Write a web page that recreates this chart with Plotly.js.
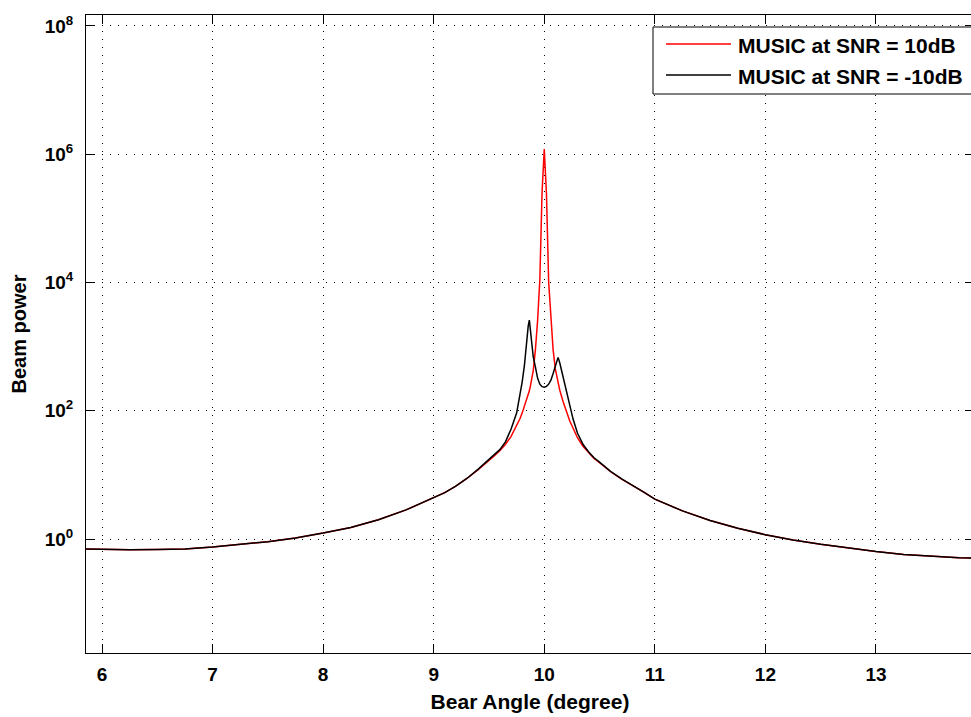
<!DOCTYPE html>
<html>
<head>
<meta charset="utf-8">
<script src="https://cdn.plot.ly/plotly-3.0.1.min.js"></script>
<style>
html,body{margin:0;padding:0;overflow:hidden;background:#fff;}
#chart{width:990px;height:717px;}
</style>
</head>
<body>
<div id="chart"></div>
<script>
// Bearing angle samples (degrees)
const angle = [5.855,6.0,6.25,6.5,6.75,7.0,7.25,7.5,7.75,8.0,8.25,8.5,8.75,9.0,9.1,9.2,9.3,9.4,
  9.5,9.55,9.6,9.65,9.7,9.75,9.78,9.8,9.82,9.84,9.855,9.865,9.875,9.89,9.9,9.92,9.94,9.96,9.98,10.0,
  10.02,10.04,10.06,10.08,10.1,10.115,10.125,10.14,10.17,10.2,10.23,10.26,10.3,10.35,10.4,10.45,10.5,
  10.6,10.7,10.8,10.9,11.0,11.25,11.5,11.75,12.0,12.25,12.5,12.75,13.0,13.25,13.5,13.75,13.9];

// MUSIC spectrum, SNR = 10 dB
const powerSnr10 = [0.70,0.69,0.68,0.685,0.70,0.75,0.82,0.91,1.04,1.24,1.52,2.0,2.85,4.35,5.3,6.7,8.8,12,
  16.5,20,24,30,40,58,75,92,115,145,175,205,245,330,420,900,2600,11000,250000,1200000,
  240000,10000,2500,900,450,320,265,210,140,95,70,54,38,28,22,18,15.5,
  11.2,8.6,6.9,5.4,4.2,2.75,1.95,1.47,1.17,0.97,0.83,0.72,0.64,0.575,0.535,0.51,0.505];

// MUSIC spectrum, SNR = -10 dB
const powerSnrM10 = [0.70,0.69,0.68,0.685,0.70,0.75,0.82,0.91,1.04,1.24,1.52,2.0,2.85,4.35,5.3,6.7,8.8,12.2,
  17.5,21,25,33,52,92,170,280,500,1200,2100,2600,1700,900,700,480,320,260,238,233,
  240,260,300,380,500,620,680,560,340,200,125,75,45,30,23,18.5,15.8,
  11.4,8.7,6.95,5.4,4.2,2.75,1.95,1.47,1.17,0.97,0.83,0.72,0.64,0.575,0.535,0.51,0.505];

const seriesNames = ['MUSIC at SNR = 10dB', 'MUSIC at SNR = -10dB'];
const seriesColors = ['#ff0000', '#000000'];

const xTicks = [6,7,8,9,10,11,12,13];
const yTickVals = [1,100,1e4,1e6,1e8];
const yTickText = ['10<sup>0</sup>','10<sup>2</sup>','10<sup>4</sup>','10<sup>6</sup>','10<sup>8</sup>'];

const FONT = 'Liberation Sans, Arial, Helvetica, sans-serif';

const traces = [
  {x: angle, y: powerSnr10, type: 'scatter', mode: 'lines', name: seriesNames[0],
   line: {color: seriesColors[0], width: 1.5}},
  {x: angle, y: powerSnrM10, type: 'scatter', mode: 'lines', name: seriesNames[1],
   line: {color: seriesColors[1], width: 1.5}}
];

// custom MATLAB-style legend (box, sample lines, labels) in paper coordinates
const L = 86, R = 974, T = 15, B = 653;
const px = v => (v - L) / (R - L);
const py = v => (B - v) / (B - T);
const legendLineY = [44, 75];
const shapes = [
  {type: 'rect', xref: 'paper', yref: 'paper', x0: px(653), x1: px(988), y0: py(94), y1: py(27),
   line: {color: '#000', width: 1}, fillcolor: '#fff', layer: 'above'}
];
const annotations = [];
seriesNames.forEach((n, i) => {
  shapes.push({type: 'line', xref: 'paper', yref: 'paper', x0: px(666), x1: px(731),
    y0: py(legendLineY[i]), y1: py(legendLineY[i]), line: {color: seriesColors[i], width: 1.5}, layer: 'above'});
  annotations.push({xref: 'paper', yref: 'paper', x: px(736), y: py(legendLineY[i] + 1),
    xanchor: 'left', yanchor: 'middle', showarrow: false, text: n,
    font: {family: FONT, size: 21, color: '#000', weight: 'bold'}});
});

const axisCommon = {
  showline: true, linecolor: '#000', linewidth: 1,
  ticks: 'inside', ticklen: 9, tickcolor: '#000', tickwidth: 1,
  mirror: 'ticks',
  showgrid: true, gridcolor: '#000', gridwidth: 1, griddash: '1px,7px',
  zeroline: false,
  tickfont: {family: FONT, size: 19, color: '#000', weight: 'bold'}
};

const layout = {
  width: 990, height: 717,
  margin: {l: L, r: 990 - R, t: T, b: 717 - B},
  paper_bgcolor: '#fff', plot_bgcolor: '#fff',
  showlegend: false,
  xaxis: Object.assign({}, axisCommon, {
    range: [5.855, 13.887], tickvals: xTicks, ticktext: xTicks.map(String),
    ticklabelstandoff: 4,
    title: {text: 'Bear Angle (degree)', standoff: 10,
            font: {family: FONT, size: 21, color: '#000', weight: 'bold'}}
  }),
  yaxis: Object.assign({}, axisCommon, {
    type: 'log', range: [-1.776, 8.17], tickvals: yTickVals, ticktext: yTickText,
    ticklabelstandoff: 8,
    title: {text: 'Beam power', standoff: 12,
            font: {family: FONT, size: 20, color: '#000', weight: 'bold'}}
  }),
  shapes: shapes,
  annotations: annotations
};

Plotly.newPlot('chart', traces, layout, {displayModeBar: false, staticPlot: true});
</script>
</body>
</html>
